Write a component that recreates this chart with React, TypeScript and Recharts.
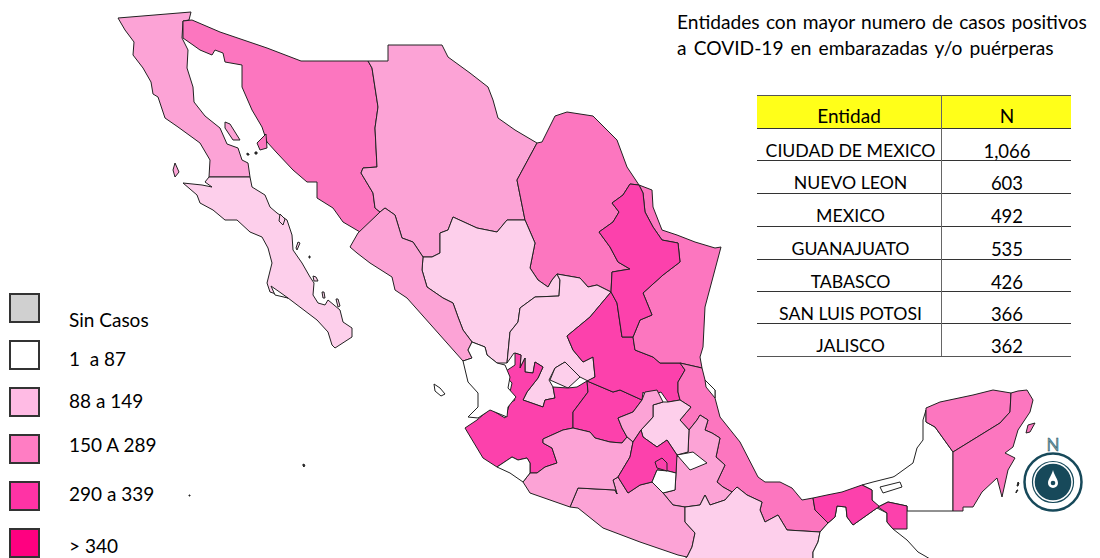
import React from "react";
import { ScatterChart, Scatter, XAxis, YAxis } from "recharts";

type Pair = [number, number];

const PALE = "#FDCFEB";
const LIGHT = "#FCA3D6";
const MEDIUM = "#FC76BF";
const DARK = "#FC41AC";
const WHITE = "#FFFFFF";
const INK = "#333333";

const bajaCalifornia: Pair[] = [[118,18],[191,12],[189,20],[183,21],[182,38],[188,50],[187,68],[193,87],[194,102],[205,116],[220,128],[227,144],[238,148],[242,160],[248,163],[250,177],[209,177],[210,160],[200,143],[178,127],[165,118],[158,97],[153,94],[151,82],[143,68],[133,55],[134,42],[125,30]];
const bajaSur: Pair[] = [[209,177],[250,177],[252,187],[265,195],[270,207],[277,213],[287,220],[292,235],[293,250],[302,263],[310,277],[314,283],[313,295],[318,303],[325,305],[328,300],[340,310],[343,322],[352,328],[352,337],[335,348],[332,345],[328,332],[317,320],[288,298],[270,292],[267,283],[272,263],[268,248],[262,237],[250,232],[237,220],[225,220],[213,210],[200,203],[197,195],[183,183],[202,185],[212,187],[205,182]];
const sonora: Pair[] = [[183,21],[192,20],[220,32],[267,48],[301,61],[368,61],[372,68],[378,107],[375,128],[377,167],[363,168],[361,173],[373,193],[375,208],[380,212],[360,232],[343,222],[333,208],[317,198],[317,182],[307,182],[293,170],[277,153],[267,142],[262,127],[252,110],[242,87],[242,65],[225,62],[223,53],[215,50],[212,55],[200,50],[193,45],[183,38]];
const chihuahua: Pair[] = [[368,61],[388,61],[388,45],[442,45],[448,57],[470,73],[488,87],[493,100],[498,118],[515,130],[537,143],[517,180],[525,220],[507,220],[497,232],[477,228],[453,217],[448,230],[440,233],[440,253],[432,257],[423,257],[413,242],[402,238],[395,215],[385,208],[380,212],[375,208],[373,193],[361,173],[363,168],[377,167],[375,128],[378,107],[372,68]];
const coahuila: Pair[] = [[537,143],[542,142],[555,116],[567,112],[593,116],[617,140],[627,167],[639,185],[630,184],[623,195],[612,203],[619,212],[613,222],[599,232],[610,247],[618,262],[630,269],[612,272],[611,292],[597,285],[588,287],[580,278],[557,274],[552,280],[548,287],[538,280],[530,268],[535,243],[525,220],[517,180]];
const durango: Pair[] = [[525,220],[535,243],[530,268],[538,280],[548,287],[552,280],[557,274],[560,280],[559,296],[535,297],[520,308],[518,322],[510,332],[507,363],[497,363],[487,355],[485,347],[472,342],[463,330],[458,317],[453,303],[443,298],[427,287],[422,270],[423,257],[432,257],[440,253],[440,233],[448,230],[453,217],[477,228],[497,232],[507,220]];
const sinaloa: Pair[] = [[380,212],[385,208],[395,215],[402,238],[413,242],[423,257],[422,270],[427,287],[443,298],[453,303],[458,317],[463,330],[472,342],[468,350],[472,358],[463,361],[407,298],[395,290],[392,277],[370,263],[357,253],[350,247],[358,233]];
const zacatecas: Pair[] = [[557,274],[580,278],[588,287],[597,285],[611,292],[590,317],[567,336],[573,350],[583,362],[593,357],[595,377],[588,381],[580,377],[565,362],[555,368],[549,380],[553,387],[555,398],[545,400],[543,407],[523,400],[527,392],[538,378],[543,367],[535,362],[533,373],[525,372],[525,358],[520,368],[521,355],[514,353],[507,363],[510,332],[518,322],[520,308],[535,297],[559,296],[560,280]];
const aguascalientes: Pair[] = [[565,362],[580,377],[568,388],[550,380],[555,368]];
const jalisco: Pair[] = [[515,353],[521,355],[520,368],[525,358],[525,372],[533,373],[535,362],[543,367],[538,378],[527,392],[523,400],[543,407],[545,400],[555,398],[553,387],[568,388],[577,387],[587,381],[588,392],[573,412],[573,428],[563,430],[543,439],[543,443],[552,448],[557,463],[545,467],[537,473],[530,473],[530,463],[527,458],[518,460],[512,457],[497,467],[483,458],[465,428],[477,420],[490,409],[505,418],[510,403],[515,400],[510,392],[512,383],[503,373],[515,365]];
const nayarit: Pair[] = [[472,342],[485,347],[487,355],[497,363],[505,365],[510,377],[508,388],[516,397],[508,407],[507,417],[490,410],[478,418],[468,417],[478,407],[478,393],[468,382],[463,361],[472,358],[468,350]];
const guanajuato: Pair[] = [[587,381],[613,392],[620,390],[642,400],[633,412],[618,418],[622,428],[627,437],[622,443],[610,442],[595,438],[590,432],[573,428],[573,412],[588,392]];
const sanLuis: Pair[] = [[611,292],[617,303],[622,337],[633,337],[635,350],[653,357],[660,363],[680,363],[685,370],[678,382],[678,392],[680,400],[668,402],[661,392],[647,397],[643,392],[642,400],[620,390],[613,392],[587,381],[595,377],[593,357],[583,362],[573,350],[567,336],[590,317]];
const nuevoLeon: Pair[] = [[630,184],[639,185],[643,193],[645,212],[653,227],[662,240],[678,243],[680,262],[663,275],[643,293],[652,315],[640,320],[633,337],[622,337],[617,303],[611,292],[612,272],[630,269],[618,262],[610,247],[599,232],[613,222],[619,212],[612,203],[623,195]];
const tamaulipas: Pair[] = [[639,185],[652,190],[653,207],[662,230],[677,235],[695,242],[715,248],[721,247],[713,277],[705,307],[703,347],[700,357],[702,368],[680,363],[660,363],[653,357],[635,350],[633,337],[640,320],[652,315],[643,293],[663,275],[680,262],[678,243],[662,240],[653,227],[645,212],[643,193]];
const veracruz: Pair[] = [[680,363],[702,368],[705,380],[715,390],[715,398],[720,417],[740,442],[758,477],[765,482],[780,482],[792,488],[802,500],[813,498],[815,510],[828,523],[820,532],[787,530],[778,515],[765,522],[760,510],[762,502],[747,495],[737,487],[732,492],[723,487],[717,482],[725,465],[716,457],[720,438],[712,433],[705,430],[708,420],[700,415],[697,420],[689,430],[680,420],[691,407],[680,400],[678,392],[678,382],[685,370]];
const puebla: Pair[] = [[689,430],[697,420],[700,415],[708,420],[705,430],[712,433],[720,438],[716,457],[725,465],[717,482],[723,487],[732,492],[725,500],[710,505],[705,495],[700,505],[685,507],[673,505],[663,493],[675,490],[676,473],[676,457],[688,452]];
const hidalgo: Pair[] = [[653,405],[663,402],[668,402],[680,400],[691,407],[680,420],[689,430],[688,452],[677,455],[667,440],[657,447],[643,437],[641,430],[653,417]];
const queretaro: Pair[] = [[642,400],[645,392],[657,390],[663,402],[653,405],[653,417],[641,430],[633,442],[627,437],[622,428],[618,418],[633,412]];
const edoMexico: Pair[] = [[641,430],[643,437],[657,447],[667,440],[677,455],[676,473],[668,471],[657,470],[652,482],[640,485],[628,493],[618,477],[630,457],[633,442]];
const cdmx: Pair[] = [[655,462],[662,458],[667,463],[667,471],[657,468]];
const morelos: Pair[] = [[652,482],[657,470],[668,471],[676,473],[675,490],[663,493]];
const tlaxcala: Pair[] = [[677,455],[693,452],[707,463],[695,468],[690,470]];
const guerrero: Pair[] = [[570,507],[578,488],[615,490],[617,494],[613,480],[618,477],[628,493],[640,485],[652,482],[663,493],[673,505],[685,507],[685,522],[695,533],[692,547],[687,557],[678,555],[640,542],[603,528],[578,508]];
const michoacan: Pair[] = [[523,482],[530,473],[537,473],[545,467],[557,463],[552,448],[543,443],[543,439],[563,430],[573,428],[590,432],[595,438],[610,442],[622,443],[627,437],[633,442],[630,457],[618,477],[613,480],[617,494],[615,490],[578,488],[570,507],[530,493]];
const colima: Pair[] = [[497,467],[512,457],[518,460],[527,458],[530,463],[530,473],[523,482],[510,473]];
const oaxaca: Pair[] = [[685,507],[700,505],[705,495],[710,505],[725,500],[732,492],[737,487],[747,495],[762,502],[760,510],[765,522],[778,515],[787,530],[820,532],[818,542],[813,552],[813,562],[680,562],[687,557],[692,547],[695,533],[685,522]];
const chiapas: Pair[] = [[820,532],[828,523],[835,517],[837,506],[846,507],[847,517],[853,525],[877,508],[887,513],[887,522],[893,529],[907,540],[918,552],[925,556],[935,562],[813,562],[813,552],[818,542]];
const tabasco: Pair[] = [[813,498],[827,495],[842,492],[862,485],[872,490],[872,500],[880,507],[877,508],[853,525],[847,517],[846,507],[837,506],[835,517],[828,523],[815,510]];
const tabascoEast: Pair[] = [[878,507],[888,502],[907,506],[907,529],[893,529],[887,522],[887,513]];
const campeche: Pair[] = [[862,485],[873,482],[893,477],[895,476],[913,463],[917,448],[923,440],[923,420],[926,410],[926,422],[935,427],[953,452],[953,511],[907,511],[907,506],[888,502],[878,507],[872,500],[872,490]];
const yucatan: Pair[] = [[926,408],[940,402],[973,395],[993,390],[1011,393],[1010,412],[1000,423],[953,452],[935,427],[926,422]];
const quintanaRoo: Pair[] = [[1011,393],[1018,391],[1027,390],[1033,400],[1030,412],[1018,430],[1013,447],[1005,453],[1015,458],[1008,470],[1002,497],[997,478],[982,492],[973,507],[963,507],[963,511],[953,511],[953,452],[1000,423],[1010,412]];
const lagunaTamiahua: Pair[] = [[705,380],[715,390],[715,398],[706,387]];
const lagunaBcs: Pair[] = [[271,286],[281,293],[288,298],[275,295]];
const islaCedros: Pair[] = [[175,163],[179,172],[175,177],[173,170]];
const islaAngel: Pair[] = [[225,122],[230,124],[240,140],[233,140],[225,128]];
const islaTiburon: Pair[] = [[266,134],[267,148],[260,150],[257,143]];
const islaCarmen: Pair[] = [[880,487],[900,482],[902,487],[883,493]];
const cozumel: Pair[] = [[1028,425],[1035,423],[1030,432],[1026,433]];
const islasMarias: Pair[] = [[434,384],[440,388],[445,394],[441,396],[435,391]];
const islaCerralvo: Pair[] = [[322,292],[324,292],[325,298],[323,298]];
const islaCerralvoSur: Pair[] = [[336,299],[338,299],[340,306],[338,307]];
const islaEspiritu: Pair[] = [[298,242],[300,243],[297,250],[296,248]];
const islaCarmenBcs: Pair[] = [[313,276],[316,277],[318,281],[314,281]];
const islaSanJose: Pair[] = [[280,214],[285,219],[283,225],[279,221]];
const islaSmall: Pair[] = [[189,495],[190,495],[190,496],[189,496]];
const islaSmall2: Pair[] = [[303,464],[305,465],[304,467],[303,466]];
const islaDot1: Pair[] = [[309,256],[310,256],[310,258],[309,258]];
const islaDot2: Pair[] = [[247,153],[249,154],[249,155],[247,155]];
const islaDot3: Pair[] = [[255,152],[257,152],[257,154],[255,154]];
const caribeMark1: Pair[] = [[1018,482],[1019,483],[1018,486],[1017,486]];
const caribeMark2: Pair[] = [[1017,490],[1018,490],[1016,493],[1016,492]];

const regions: { name: string; fill: string; pts: Pair[] }[] = [
  { name: "Baja California", fill: LIGHT, pts: bajaCalifornia },
  { name: "Baja California Sur", fill: PALE, pts: bajaSur },
  { name: "Sonora", fill: MEDIUM, pts: sonora },
  { name: "Chihuahua", fill: LIGHT, pts: chihuahua },
  { name: "Coahuila", fill: MEDIUM, pts: coahuila },
  { name: "Durango", fill: PALE, pts: durango },
  { name: "Sinaloa", fill: LIGHT, pts: sinaloa },
  { name: "Zacatecas", fill: PALE, pts: zacatecas },
  { name: "Aguascalientes", fill: PALE, pts: aguascalientes },
  { name: "Jalisco", fill: DARK, pts: jalisco },
  { name: "Nayarit", fill: WHITE, pts: nayarit },
  { name: "Guanajuato", fill: DARK, pts: guanajuato },
  { name: "San Luis Potosi", fill: DARK, pts: sanLuis },
  { name: "Tamaulipas", fill: MEDIUM, pts: tamaulipas },
  { name: "Nuevo Leon", fill: DARK, pts: nuevoLeon },
  { name: "Veracruz", fill: MEDIUM, pts: veracruz },
  { name: "Puebla", fill: LIGHT, pts: puebla },
  { name: "Hidalgo", fill: PALE, pts: hidalgo },
  { name: "Queretaro", fill: LIGHT, pts: queretaro },
  { name: "Guerrero", fill: LIGHT, pts: guerrero },
  { name: "Michoacan", fill: LIGHT, pts: michoacan },
  { name: "Colima", fill: WHITE, pts: colima },
  { name: "Oaxaca", fill: PALE, pts: oaxaca },
  { name: "Chiapas", fill: WHITE, pts: chiapas },
  { name: "Campeche", fill: WHITE, pts: campeche },
  { name: "Tabasco", fill: DARK, pts: tabasco },
  { name: "Tabasco Este", fill: DARK, pts: tabascoEast },
  { name: "Yucatan", fill: MEDIUM, pts: yucatan },
  { name: "Quintana Roo", fill: MEDIUM, pts: quintanaRoo },
  { name: "Mexico", fill: DARK, pts: edoMexico },
  { name: "Morelos", fill: WHITE, pts: morelos },
  { name: "Ciudad de Mexico", fill: DARK, pts: cdmx },
  { name: "Tlaxcala", fill: WHITE, pts: tlaxcala },
  { name: "Tamiahua", fill: WHITE, pts: lagunaTamiahua },
  { name: "Laguna BCS", fill: WHITE, pts: lagunaBcs },
  { name: "Cedros", fill: LIGHT, pts: islaCedros },
  { name: "Angel", fill: LIGHT, pts: islaAngel },
  { name: "Tiburon", fill: MEDIUM, pts: islaTiburon },
  { name: "Carmen", fill: WHITE, pts: islaCarmen },
  { name: "Cozumel", fill: MEDIUM, pts: cozumel },
  { name: "Marias", fill: WHITE, pts: islasMarias },
  { name: "Cerralvo", fill: PALE, pts: islaCerralvo },
  { name: "Cerralvo Sur", fill: PALE, pts: islaCerralvoSur },
  { name: "Espiritu", fill: PALE, pts: islaEspiritu },
  { name: "Carmen BCS", fill: PALE, pts: islaCarmenBcs },
  { name: "San Jose", fill: PALE, pts: islaSanJose },
  { name: "Socorro", fill: INK, pts: islaSmall },
  { name: "Clarion", fill: INK, pts: islaSmall2 },
  { name: "Dot 1", fill: INK, pts: islaDot1 },
  { name: "Dot 2", fill: INK, pts: islaDot2 },
  { name: "Dot 3", fill: INK, pts: islaDot3 },
  { name: "Mark 1", fill: INK, pts: caribeMark1 },
  { name: "Mark 2", fill: INK, pts: caribeMark2 },
];

const titleLines = ["Entidades con mayor numero de casos positivos", "a COVID-19 en embarazadas y/o puérperas"];
const titleTops = [10, 36];
const titleSpacing = [1.3, 2.2];
const tableHeader = ["Entidad", "N"];
const tableEntities = ["CIUDAD DE MEXICO", "NUEVO LEON", "MEXICO", "GUANAJUATO", "TABASCO", "SAN LUIS POTOSI", "JALISCO"];
const tableValues = ["1,066", "603", "492", "535", "426", "366", "362"];
const legendLabels = ["Sin Casos", "1  a 87", "88 a 149", "150 A 289", "290 a 339", "> 340"];
const legendColors = ["#D0D0D0", "#FFFFFF", "#FFBBE4", "#FF7DC3", "#FF33A5", "#FF0080"];
const legendSwatchTops = [293, 340, 387, 434, 481, 528];
const legendTextCenters = [320, 359, 401, 445, 494, 546];
const rowLines = [95, 128, 160, 193, 226, 259, 291, 323, 356];

const toPoints = (pts: Pair[]) => [...pts, pts[0]].map(([x, y]) => ({ x, y }));
const NoMark = () => <g />;
const FONT = "Lato, Carlito, sans-serif";
const TEAL = "#17495A";

const Compass = () => (
  <svg width={70} height={84} style={{ position: "absolute", left: 1018, top: 432 }}>
    <text x={35} y={19} textAnchor="middle" fontFamily="Lato" fontSize={17} fill="#6E9AA4" stroke={TEAL} strokeWidth={0.4}>N</text>
    <circle cx={35} cy={50} r={28.5} fill="#fff" stroke={TEAL} strokeWidth={2.5} />
    <circle cx={35} cy={50} r={20.5} fill="#fff" stroke={TEAL} strokeWidth={1.2} />
    <circle cx={35} cy={50} r={18.3} fill={TEAL} />
    <path d="M35 38 C36 43 40 47 40 51 A5 5 0 0 1 30 51 C30 47 34 43 35 38 Z" fill="#fff" />
    <circle cx={35} cy={51} r={2.3} fill={TEAL} />
  </svg>
);

export default function App() {
  return (
    <div style={{ position: "absolute", left: 0, top: 0, width: 1100, height: 558, overflow: "hidden", background: "#fff", fontFamily: FONT, color: "#000" }}>
      <div style={{ position: "absolute", left: 0, top: 0 }}>
        <ScatterChart width={1100} height={558} margin={{ top: 0, right: 0, bottom: 0, left: 0 }}>
          <XAxis type="number" dataKey="x" domain={[0, 1100]} hide allowDataOverflow />
          <YAxis type="number" dataKey="y" domain={[0, 558]} reversed hide allowDataOverflow />
          {regions.map((r) => (
            <Scatter
              key={r.name}
              name={r.name}
              data={toPoints(r.pts)}
              isAnimationActive={false}
              shape={NoMark}
              line={{ fill: r.fill, stroke: "#222222", strokeWidth: 1, strokeLinejoin: "round" }}
              lineType="joint"
              lineJointType="linear"
            />
          ))}
        </ScatterChart>
      </div>

      {titleLines.map((t, i) => (
        <div key={t} style={{ position: "absolute", left: 677, top: titleTops[i], fontSize: 19.2, lineHeight: "24px", whiteSpace: "pre", wordSpacing: titleSpacing[i] }}>{t}</div>
      ))}

      <div style={{ position: "absolute", left: 757, top: 95, width: 314, height: 33, background: "#FFFF19" }} />
      {rowLines.map((y, i) => (
        <div key={i} style={{ position: "absolute", left: 757, top: y - 0.5, width: 314, height: 1.2, background: i === 0 || i === 8 ? "#555" : "#333" }} />
      ))}
      <div style={{ position: "absolute", left: 940.5, top: 95, width: 1.2, height: 261, background: "#666" }} />
      {tableHeader.map((t, i) => (
        <div key={t} style={{ position: "absolute", left: i === 0 ? 757 : 941, width: i === 0 ? 184 : 132, top: 104, lineHeight: "24px", fontSize: 19, textAlign: "center" }}>{t}</div>
      ))}
      {tableEntities.map((t, i) => (
        <div key={t} style={{ position: "absolute", left: 757, width: 187, top: rowLines[i + 1] + 11, lineHeight: "24px", fontSize: 17.7, textAlign: "center", whiteSpace: "pre" }}>{t}</div>
      ))}
      {tableValues.map((t, i) => (
        <div key={i} style={{ position: "absolute", left: 941, width: 132, top: rowLines[i + 1] + 11, lineHeight: "24px", fontSize: 18.5, textAlign: "center" }}>{t}</div>
      ))}

      {legendLabels.map((t, i) => (
        <React.Fragment key={t}>
          <div style={{ position: "absolute", left: 9, top: legendSwatchTops[i], width: 31, height: 30, boxSizing: "border-box", background: legendColors[i], border: "2px solid #333" }} />
          <div style={{ position: "absolute", left: 69, top: legendTextCenters[i] - 12, lineHeight: "24px", fontSize: 19, whiteSpace: "pre" }}>{t}</div>
        </React.Fragment>
      ))}

      <Compass />
    </div>
  );
}
